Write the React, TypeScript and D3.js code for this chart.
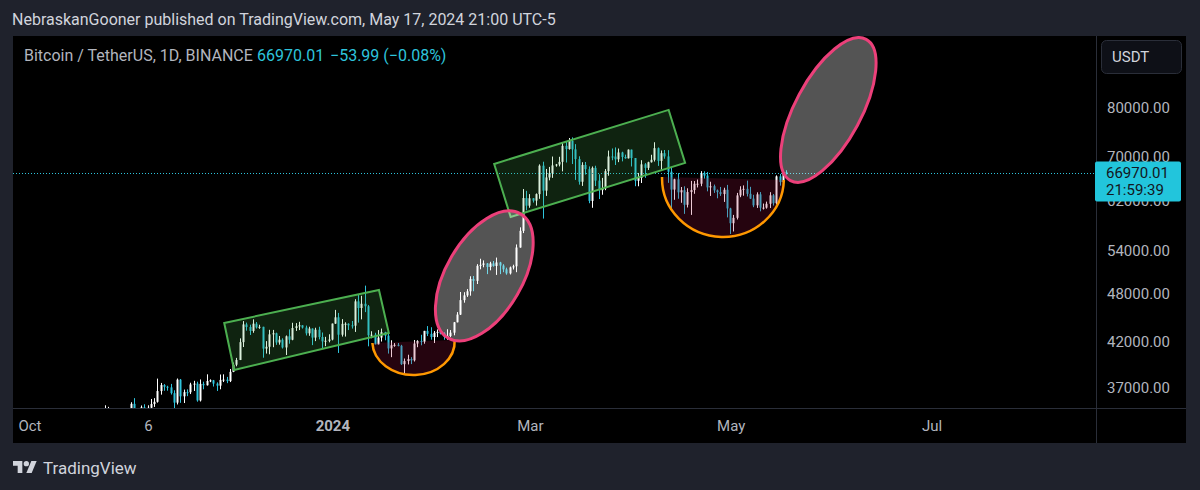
import React from "react";
import * as d3 from "d3";

const W = 1200;
const H = 490;

// Daily BTC/USDT candles: [date, open, high, low, close]
const candles: [string, number, number, number, number][] = [
  ["2023-10-20", 28710, 30200, 28600, 29680],
  ["2023-10-21", 29680, 30290, 29470, 29910],
  ["2023-10-22", 29910, 30200, 29660, 29990],
  ["2023-10-23", 29990, 33980, 29880, 33070],
  ["2023-10-24", 33070, 35280, 32850, 33900],
  ["2023-10-25", 33900, 35130, 33690, 34500],
  ["2023-10-26", 34500, 34820, 33740, 34150],
  ["2023-10-27", 34150, 34250, 33400, 33890],
  ["2023-10-28", 33890, 34460, 33850, 34080],
  ["2023-10-29", 34080, 34750, 34050, 34520],
  ["2023-10-30", 34520, 34860, 34080, 34480],
  ["2023-10-31", 34480, 34720, 34060, 34640],
  ["2023-11-01", 34640, 35580, 34120, 35420],
  ["2023-11-02", 35420, 35980, 34340, 34940],
  ["2023-11-03", 34940, 34950, 34100, 34720],
  ["2023-11-04", 34720, 35260, 34580, 35080],
  ["2023-11-05", 35080, 35380, 34520, 35020],
  ["2023-11-06", 35020, 35280, 34730, 35040],
  ["2023-11-07", 35040, 35900, 34520, 35400],
  ["2023-11-08", 35400, 35980, 35120, 35620],
  ["2023-11-09", 35620, 37970, 35540, 36690],
  ["2023-11-10", 36690, 37520, 36330, 37300],
  ["2023-11-11", 37300, 37400, 36720, 37130],
  ["2023-11-12", 37130, 37230, 36730, 37060],
  ["2023-11-13", 37060, 37420, 36340, 36480],
  ["2023-11-14", 36480, 36770, 34800, 35540],
  ["2023-11-15", 35540, 37980, 35360, 37860],
  ["2023-11-16", 37860, 37930, 35520, 36160],
  ["2023-11-17", 36160, 36840, 35500, 36580],
  ["2023-11-18", 36580, 36860, 36180, 36570],
  ["2023-11-19", 36570, 37540, 36390, 37360],
  ["2023-11-20", 37360, 37740, 36700, 37450],
  ["2023-11-21", 37450, 37650, 35630, 35750],
  ["2023-11-22", 35750, 37880, 35650, 37420],
  ["2023-11-23", 37420, 37650, 36870, 37280],
  ["2023-11-24", 37280, 38420, 37250, 37720],
  ["2023-11-25", 37720, 37890, 37600, 37790],
  ["2023-11-26", 37790, 37830, 37150, 37450],
  ["2023-11-27", 37450, 37580, 36700, 37240],
  ["2023-11-28", 37240, 38400, 36870, 37830],
  ["2023-11-29", 37830, 38420, 37610, 37860],
  ["2023-11-30", 37860, 38150, 37500, 37710],
  ["2023-12-01", 37710, 38990, 37610, 38680],
  ["2023-12-02", 38680, 39680, 38650, 39450],
  ["2023-12-03", 39450, 40200, 39280, 39970],
  ["2023-12-04", 39970, 42420, 39960, 41980],
  ["2023-12-05", 41980, 44490, 41420, 44080],
  ["2023-12-06", 44080, 44300, 43330, 43770],
  ["2023-12-07", 43770, 44050, 42820, 43290],
  ["2023-12-08", 43290, 44700, 43080, 44170],
  ["2023-12-09", 44170, 44370, 43580, 43710],
  ["2023-12-10", 43710, 44040, 43550, 43790],
  ["2023-12-11", 43790, 43800, 40220, 41240],
  ["2023-12-12", 41240, 42100, 40680, 41450],
  ["2023-12-13", 41450, 43430, 40600, 42890],
  ["2023-12-14", 42890, 43420, 41400, 43020],
  ["2023-12-15", 43020, 43090, 41670, 41940],
  ["2023-12-16", 41940, 42700, 41690, 42260],
  ["2023-12-17", 42260, 42430, 41250, 41370],
  ["2023-12-18", 41370, 42760, 40520, 42660],
  ["2023-12-19", 42660, 43480, 41800, 42260],
  ["2023-12-20", 42260, 44280, 42200, 43650],
  ["2023-12-21", 43650, 44240, 43300, 43860],
  ["2023-12-22", 43860, 44400, 43400, 43970],
  ["2023-12-23", 43970, 43990, 43580, 43700],
  ["2023-12-24", 43700, 43940, 42760, 43010],
  ["2023-12-25", 43010, 43800, 42720, 43580],
  ["2023-12-26", 43580, 43600, 41640, 42510],
  ["2023-12-27", 42510, 43680, 42100, 43440],
  ["2023-12-28", 43440, 43800, 42300, 42580],
  ["2023-12-29", 42580, 43110, 41300, 42070],
  ["2023-12-30", 42070, 42600, 41520, 42140],
  ["2023-12-31", 42140, 42900, 41960, 42280],
  ["2024-01-01", 42280, 44190, 42190, 44180],
  ["2024-01-02", 44180, 45880, 44150, 44950],
  ["2024-01-03", 44950, 45500, 40750, 42850],
  ["2024-01-04", 42850, 44730, 42630, 44150],
  ["2024-01-05", 44150, 44340, 42630, 44160],
  ["2024-01-06", 44160, 44220, 43400, 43970],
  ["2024-01-07", 43970, 44500, 43580, 43930],
  ["2024-01-08", 43930, 47250, 43180, 46970],
  ["2024-01-09", 46970, 47900, 44300, 46120],
  ["2024-01-10", 46120, 47700, 44700, 46660],
  ["2024-01-11", 46660, 49050, 45600, 46340],
  ["2024-01-12", 46340, 46500, 41500, 42780],
  ["2024-01-13", 42780, 43260, 42440, 42850],
  ["2024-01-14", 42850, 43080, 41720, 41730],
  ["2024-01-15", 41730, 43400, 41720, 42510],
  ["2024-01-16", 42510, 43580, 42050, 43150],
  ["2024-01-17", 43150, 43200, 42200, 42740],
  ["2024-01-18", 42740, 42930, 40680, 41260],
  ["2024-01-19", 41260, 42200, 40280, 41620],
  ["2024-01-20", 41620, 41870, 41450, 41670],
  ["2024-01-21", 41670, 41880, 41500, 41560],
  ["2024-01-22", 41560, 41670, 39430, 39510],
  ["2024-01-23", 39510, 40130, 38550, 39850],
  ["2024-01-24", 39850, 40550, 39480, 40070],
  ["2024-01-25", 40070, 40280, 39520, 39930],
  ["2024-01-26", 39930, 42230, 39800, 41820],
  ["2024-01-27", 41820, 42200, 41400, 42120],
  ["2024-01-28", 42120, 42840, 41620, 42030],
  ["2024-01-29", 42030, 43310, 41800, 43300],
  ["2024-01-30", 43300, 43880, 42690, 42950],
  ["2024-01-31", 42950, 43740, 42270, 42580],
  ["2024-02-01", 42580, 43290, 41880, 43080],
  ["2024-02-02", 43080, 43480, 42570, 43190],
  ["2024-02-03", 43190, 43380, 42890, 42990],
  ["2024-02-04", 42990, 43120, 42260, 42580],
  ["2024-02-05", 42580, 43500, 42260, 42700],
  ["2024-02-06", 42700, 43400, 42570, 43090],
  ["2024-02-07", 43090, 44380, 42780, 44340],
  ["2024-02-08", 44340, 45600, 44330, 45290],
  ["2024-02-09", 45290, 48200, 45240, 47130],
  ["2024-02-10", 47130, 48170, 46800, 47750],
  ["2024-02-11", 47750, 48590, 47550, 48290],
  ["2024-02-12", 48290, 50330, 47710, 49960],
  ["2024-02-13", 49960, 50370, 48300, 49700],
  ["2024-02-14", 49700, 52040, 49270, 51800],
  ["2024-02-15", 51800, 52820, 51310, 51940],
  ["2024-02-16", 51940, 52580, 51590, 52140],
  ["2024-02-17", 52140, 52200, 50630, 51640],
  ["2024-02-18", 51640, 52380, 51160, 52140],
  ["2024-02-19", 52140, 52490, 51680, 51780],
  ["2024-02-20", 51780, 52990, 50520, 52280],
  ["2024-02-21", 52280, 52370, 50630, 51840],
  ["2024-02-22", 51840, 52030, 50900, 51300],
  ["2024-02-23", 51300, 51540, 50550, 50730],
  ["2024-02-24", 50730, 51700, 50580, 51570],
  ["2024-02-25", 51570, 51960, 51280, 51730],
  ["2024-02-26", 51730, 54940, 50900, 54480],
  ["2024-02-27", 54480, 57590, 54450, 57040],
  ["2024-02-28", 57040, 64000, 56690, 62430],
  ["2024-02-29", 62430, 63680, 60360, 61130],
  ["2024-03-01", 61130, 63110, 60780, 62390],
  ["2024-03-02", 62390, 62430, 61660, 61990],
  ["2024-03-03", 61990, 63230, 61140, 63110],
  ["2024-03-04", 63110, 68500, 62300, 68250],
  ["2024-03-05", 68250, 69000, 59000, 63720],
  ["2024-03-06", 63720, 67640, 62800, 66070],
  ["2024-03-07", 66070, 68020, 65550, 66830],
  ["2024-03-08", 66830, 69990, 66000, 68300],
  ["2024-03-09", 68300, 68580, 68060, 68470],
  ["2024-03-10", 68470, 69940, 68120, 68970],
  ["2024-03-11", 68970, 72800, 67190, 72080],
  ["2024-03-12", 72080, 72920, 68850, 71450],
  ["2024-03-13", 71450, 73650, 71330, 73070],
  ["2024-03-14", 73070, 73780, 68560, 71390],
  ["2024-03-15", 71390, 72420, 65630, 69500],
  ["2024-03-16", 69500, 70040, 64780, 65300],
  ["2024-03-17", 65300, 68900, 64550, 68390],
  ["2024-03-18", 68390, 68950, 66600, 67600],
  ["2024-03-19", 67600, 68110, 61550, 61940],
  ["2024-03-20", 61940, 68100, 60780, 67840],
  ["2024-03-21", 67840, 68240, 64530, 65500],
  ["2024-03-22", 65500, 66650, 62260, 63800],
  ["2024-03-23", 63800, 65990, 63000, 64100],
  ["2024-03-24", 64100, 67620, 63800, 67230],
  ["2024-03-25", 67230, 71150, 66390, 70000],
  ["2024-03-26", 70000, 71560, 69280, 69990],
  ["2024-03-27", 69990, 71770, 68380, 69460],
  ["2024-03-28", 69460, 71550, 68920, 70780],
  ["2024-03-29", 70780, 70920, 69070, 69900],
  ["2024-03-30", 69900, 70360, 69570, 69650],
  ["2024-03-31", 69650, 71370, 69620, 71330],
  ["2024-04-01", 71330, 71340, 68100, 69700],
  ["2024-04-02", 69700, 69700, 64500, 65460],
  ["2024-04-03", 65460, 66900, 64490, 65980],
  ["2024-04-04", 65980, 69290, 65070, 68500],
  ["2024-04-05", 68500, 68730, 66010, 67840],
  ["2024-04-06", 67840, 69000, 67450, 68900],
  ["2024-04-07", 68900, 70330, 68840, 69360],
  ["2024-04-08", 69360, 72800, 69040, 71620],
  ["2024-04-09", 71620, 71760, 68210, 69150],
  ["2024-04-10", 69150, 71170, 67520, 70640],
  ["2024-04-11", 70640, 71260, 69570, 70010],
  ["2024-04-12", 70010, 71230, 65100, 67130],
  ["2024-04-13", 67130, 67930, 60660, 63900],
  ["2024-04-14", 63900, 65840, 62130, 65740],
  ["2024-04-15", 65740, 66870, 62310, 63420],
  ["2024-04-16", 63420, 64360, 61620, 63790],
  ["2024-04-17", 63790, 64480, 59770, 61280],
  ["2024-04-18", 61280, 64130, 60830, 63470],
  ["2024-04-19", 63470, 65450, 59600, 63820],
  ["2024-04-20", 63820, 65420, 63170, 64940],
  ["2024-04-21", 64940, 65700, 64280, 64940],
  ["2024-04-22", 64940, 67230, 64500, 66840],
  ["2024-04-23", 66840, 67200, 65860, 66410],
  ["2024-04-24", 66410, 67080, 63600, 64290],
  ["2024-04-25", 64290, 65300, 62790, 64500],
  ["2024-04-26", 64500, 64790, 63320, 63770],
  ["2024-04-27", 63770, 63920, 62390, 63460],
  ["2024-04-28", 63460, 64370, 62800, 63120],
  ["2024-04-29", 63120, 64230, 61770, 63870],
  ["2024-04-30", 63870, 64730, 59190, 60670],
  ["2024-05-01", 60670, 60780, 56550, 58250],
  ["2024-05-02", 58250, 59600, 56940, 59120],
  ["2024-05-03", 59120, 63320, 58850, 62890],
  ["2024-05-04", 62890, 64490, 62580, 63890],
  ["2024-05-05", 63890, 64640, 62830, 64030],
  ["2024-05-06", 64030, 65500, 62700, 63160],
  ["2024-05-07", 63160, 64390, 62280, 62330],
  ["2024-05-08", 62330, 62990, 60880, 61190],
  ["2024-05-09", 61190, 63420, 60750, 63070],
  ["2024-05-10", 63070, 63470, 60190, 60790],
  ["2024-05-11", 60790, 61490, 60490, 60800],
  ["2024-05-12", 60800, 61820, 60630, 61450],
  ["2024-05-13", 61450, 63450, 60750, 62900],
  ["2024-05-14", 62900, 63120, 61150, 61550],
  ["2024-05-15", 61550, 66450, 61330, 66270],
  ["2024-05-16", 66270, 66700, 64600, 65230],
  ["2024-05-17", 65230, 67450, 65110, 67020],
  ["2024-05-18", 67020, 67400, 66600, 66970],
];

const priceTicks = [37000, 42000, 48000, 54000, 62000, 70000, 80000];
const timeTicks: [string, string, boolean][] = [
  ["2023-10-01", "Oct", false],
  ["2023-11-06", "6", false],
  ["2024-01-01", "2024", true],
  ["2024-03-01", "Mar", false],
  ["2024-05-01", "May", false],
  ["2024-07-01", "Jul", false],
];

const titleText = "NebraskanGooner published on TradingView.com, May 17, 2024 21:00 UTC-5";
const symbolText = "Bitcoin / TetherUS, 1D, BINANCE";
const lastPrice = 66970.01;
const changeText = "\u221253.99 (\u22120.08%)";
const countdown = "21:59:39";
const currency = "USDT";

// Drawings (anchored in time / price)
const channels: [string, number][][] = [
  [["2023-11-29", 44260], ["2024-01-15", 48470], ["2024-01-18", 43050], ["2023-12-02", 38880]],
  [["2024-02-19", 68580], ["2024-04-12", 79580], ["2024-04-17", 68770], ["2024-02-24", 59270]],
];
const ellipses: { p1: [string, number]; p2: [string, number]; minor: number }[] = [
  { p1: ["2024-02-05", 42470], p2: ["2024-02-27", 59760], minor: 38 },
  { p1: ["2024-05-19", 65510], p2: ["2024-06-11", 96650], minor: 33 },
];
const bowls: { start: [string, number]; bottom: [string, number]; end: [string, number] }[] = [
  { start: ["2024-01-13", 41880], bottom: ["2024-01-25", 38350], end: ["2024-02-07", 42230] },
  { start: ["2024-04-10", 66170], bottom: ["2024-05-01", 56090], end: ["2024-05-17", 65620] },
];

const parse = d3.utcParse("%Y-%m-%d");

const PLOT = { left: 13, right: 1096, top: 36, bottom: 408 };
const PANEL = { left: 13, right: 1186, top: 36, bottom: 443 };

const FONT = "Roboto, 'Noto Sans', sans-serif";
const UP = "#ffffff";
const DOWN = "#2ec4dc";

export default function App() {
  const x = d3
    .scaleUtc()
    .domain([parse("2023-10-01")!, parse("2024-07-01")!])
    .range([30, 932]);
  const y = d3.scaleLog().domain([37000, 80000]).range([388, 108]);

  const px = (p: [string, number]) => [x(parse(p[0])!), y(p[1])] as [number, number];

  const bodyW = 2;

  return (
    <svg
      width={W}
      height={H}
      style={{ position: "absolute", left: 0, top: 0, display: "block" }}
      fontFamily={FONT}
    >
      <defs>
        <clipPath id="plotClip">
          <rect x={PLOT.left} y={PLOT.top} width={PLOT.right - PLOT.left} height={PLOT.bottom - PLOT.top} />
        </clipPath>
      </defs>
      <rect x={0} y={0} width={W} height={H} fill="#1f222c" />
      <text x={12} y={25} fill="#d1d4dc" fontSize={16}>
        {titleText}
      </text>

      <rect x={PANEL.left} y={PANEL.top} width={PANEL.right - PANEL.left} height={PANEL.bottom - PANEL.top} fill="#000000" />

      <g clipPath="url(#plotClip)">
        {candles.map((c) => {
          const cx = Math.round(x(parse(c[0])!));
          const [, o, h, l, cl] = c;
          const col = cl >= o ? UP : DOWN;
          const yTop = y(Math.max(o, cl));
          const yBot = y(Math.min(o, cl));
          return (
            <g key={c[0]}>
              <rect x={cx - 1} y={y(h)} width={1} height={Math.max(1, y(l) - y(h))} fill={col} />
              <rect x={cx - bodyW / 2 - 0.5} y={yTop} width={bodyW} height={Math.max(1, yBot - yTop)} fill={col} />
            </g>
          );
        })}

        {/* price line */}
        <line
          x1={PLOT.left}
          x2={PLOT.right}
          y1={Math.round(y(lastPrice)) + 0.5}
          y2={Math.round(y(lastPrice)) + 0.5}
          stroke="#2ec4dc"
          strokeWidth={1}
          strokeDasharray="1 2"
        />

        {channels.map((pts, i) => (
          <polygon
            key={"ch" + i}
            points={pts.map((p) => px(p).join(",")).join(" ")}
            fill="rgba(76,175,80,0.2)"
            stroke="#4caf50"
            strokeWidth={2}
            strokeLinejoin="miter"
          />
        ))}

        {bowls.map((b, i) => {
          const [x1, y1] = px(b.start);
          const [, yb] = px(b.bottom);
          const [x2, y2] = px(b.end);
          const rx = (x2 - x1) / 2;
          const ry = yb - (y1 + y2) / 2;
          const arc = `M${x1},${y1} A${rx},${ry} 0 0 0 ${x2},${y2}`;
          return (
            <g key={"bw" + i}>
              <path d={arc + " Z"} fill="rgba(170,20,70,0.22)" stroke="none" />
              <path d={arc} fill="none" stroke="#ff9800" strokeWidth={2.5} />
            </g>
          );
        })}

        {ellipses.map((e, i) => {
          const [x1, y1] = px(e.p1);
          const [x2, y2] = px(e.p2);
          const cx = (x1 + x2) / 2;
          const cy = (y1 + y2) / 2;
          const a = Math.hypot(x2 - x1, y2 - y1) / 2;
          const ang = (Math.atan2(y2 - y1, x2 - x1) * 180) / Math.PI;
          return (
            <ellipse
              key={"el" + i}
              cx={cx}
              cy={cy}
              rx={a}
              ry={e.minor}
              transform={`rotate(${ang} ${cx} ${cy})`}
              fill="rgba(255,255,255,0.33)"
              stroke="#ec407a"
              strokeWidth={3}
            />
          );
        })}
      </g>

      {/* separators */}
      <line x1={PLOT.right + 0.5} x2={PLOT.right + 0.5} y1={PANEL.top} y2={PANEL.bottom} stroke="#2a2e39" />
      <line x1={PANEL.left} x2={PANEL.right} y1={PLOT.bottom + 0.5} y2={PLOT.bottom + 0.5} stroke="#2a2e39" />

      {/* legend */}
      <text x={24} y={61} fontSize={16} fill="#b2b5be">
        {symbolText}
      </text>
      <text x={257} y={61} fontSize={16} fill="#2ec4dc">
        {lastPrice.toFixed(2)}
      </text>
      <text x={330} y={61} fontSize={16} fill="#2ec4dc">
        {changeText}
      </text>

      {/* price axis */}
      <rect x={1101.5} y={40.5} width={80} height={33} rx={5} fill="#0e1017" stroke="#2a2e39" />
      <text x={1112} y={62} fontSize={15} fill="#d1d4dc">
        {currency}
      </text>
      {priceTicks.map((p) => (
        <text key={p} x={1107} y={y(p)} dy="0.35em" fontSize={15} fill="#b2b5be">
          {p.toFixed(2)}
        </text>
      ))}
      <rect x={1095} y={y(lastPrice) - 11} width={86} height={40} rx={2} fill="#22c5dc" />
      <text x={1106} y={y(lastPrice)} dy="0.35em" fontSize={15} fill="#131722">
        {lastPrice.toFixed(2)}
      </text>
      <text x={1106} y={y(lastPrice) + 17} dy="0.35em" fontSize={15} fill="#131722">
        {countdown}
      </text>

      {/* time axis */}
      {timeTicks.map(([d, label, bold]) => (
        <text
          key={d}
          x={x(parse(d)!)}
          y={426}
          dy="0.35em"
          textAnchor="middle"
          fontSize={15}
          fontWeight={bold ? 700 : 400}
          fill="#b2b5be"
        >
          {label}
        </text>
      ))}

      {/* TradingView logo */}
      <g transform="translate(13,458.3) scale(0.667)" fill="#d1d4dc">
        <path d="M14 22H7V11H0V4h14v18z" />
        <circle cx={20} cy={8} r={4} />
        <path d="M28 22h-8l7.5-18h8L28 22z" />
      </g>
      <text x={43} y={468} dy="0.35em" fontSize={17} fill="#d1d4dc">
        TradingView
      </text>
    </svg>
  );
}
